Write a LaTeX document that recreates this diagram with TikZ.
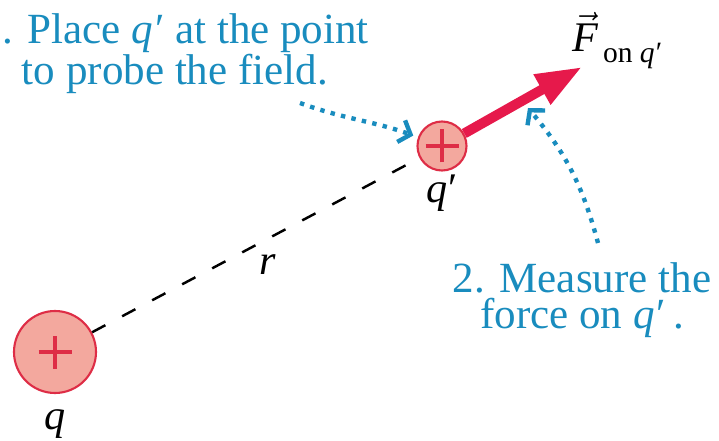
\documentclass[tikz,border=0pt]{standalone}
\usepackage{amsmath}
\usepackage{fontspec}
\setmainfont{Liberation Serif}
\usepackage{tikz}
\usetikzlibrary{arrows.meta,positioning}
\definecolor{probeBlue}{RGB}{25,140,190}
\definecolor{forceRed}{RGB}{230,25,75}
\definecolor{chargeRed}{RGB}{222,45,70}
\definecolor{chargeFill}{RGB}{243,168,158}
\newcommand{\qprime}{\textit{q}\kern0.04em′}
\tikzset{
  charge/.style={circle, draw=chargeRed, line width=1.2pt, fill=chargeFill, inner sep=0pt,
    path picture={\draw[chargeRed, line width=2.3pt]
      ([xshift=-0.33cm]path picture bounding box.center) -- ([xshift=0.33cm]path picture bounding box.center)
      ([yshift=-0.33cm]path picture bounding box.center) -- ([yshift=0.33cm]path picture bounding box.center);}},
  probe/.style={probeBlue, line width=2.5pt, dash pattern=on 2.5pt off 3.6pt,
    -{Straight Barb[length=0.2cm,width=0.46cm]}},
  note/.style={text=probeBlue, font=\fontsize{24.5}{20.8}\selectfont, align=center, inner sep=0pt},
  lbl/.style={font=\fontsize{24}{24}\selectfont, inner sep=0pt}
}

\begin{document}
\begin{tikzpicture}
    \useasboundingbox (0,0) rectangle (14.38,8.8);

    % charges
    \node[charge, minimum size=1.64cm] (q) at (1.10,1.76) {};
    \node[charge, minimum size=0.98cm] (qp) at (8.84,5.88) {};

    % separation r
    \draw[line width=1.4pt, dash pattern=on 0.3cm off 0.38cm] (q) -- (qp);

    % force on q'
    \coordinate (Ftip) at (11.64,7.46);
    \draw[forceRed, line width=0.2cm, -{Triangle[length=0.92cm,width=0.64cm]}] (qp) -- (Ftip);

    % labels
    \node[lbl, below=0.3cm of q] (qlabel) {\textit{q}};
    \node[lbl, below=0.06cm of qp] (qplabel) {\qprime};
    \node[lbl] (rlabel) at (5.36,3.5) {\textit{r}};
    \node[lbl, anchor=base west] (Flabel) at (11.44,7.76)
        {$\vec{\textit{F}}_{\text{\,\raisebox{-2pt}{on \qprime}}}$};

    % notes
    \node[note] (place) at (3.5,7.72) {1. Place \qprime{} at the point\\to probe the field.};
    \node[note] (measure) at (11.64,2.8) {2. Measure the\\force on \qprime\,.};

    % dotted pointers
    \coordinate (placeTail) at (6.0,6.74);
    \draw[probe, shorten >=0.1cm] (placeTail) to[out=-20,in=160] (qp);
    \coordinate (measureTail) at (11.96,3.94);
    \coordinate (measureTip) at (10.56,6.64);
    \draw[probe] (measureTail) to[out=105,in=-50] (measureTip);
\end{tikzpicture}
\end{document}
